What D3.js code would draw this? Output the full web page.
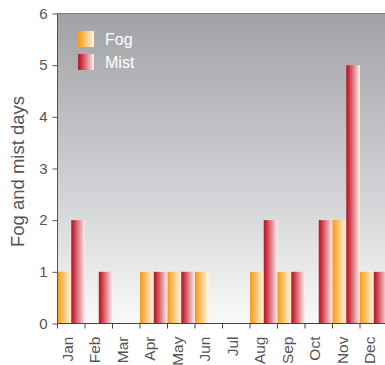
<!DOCTYPE html>
<html>
<head>
<meta charset="utf-8">
<script src="https://cdn.jsdelivr.net/npm/d3@7/dist/d3.min.js"></script>
<style>
  html, body { margin: 0; padding: 0; background: #fff; }
  svg { display: block; font-family: "Liberation Sans", Arial, sans-serif; }
</style>
</head>
<body>
<div id="chart"></div>
<script>
// Monthly fog and mist day counts
const months = ["Jan","Feb","Mar","Apr","May","Jun","Jul","Aug","Sep","Oct","Nov","Dec"];
const fogDays  = [1, 0, 0, 1, 1, 1, 0, 1, 1, 0, 2, 1];
const mistDays = [2, 1, 0, 1, 1, 0, 0, 2, 1, 2, 5, 1];
const seriesNames = ["Fog", "Mist"];
const yTicks = [0, 1, 2, 3, 4, 5, 6];

const W = 385, H = 365;
const m = { left: 57.5, top: 13.5, bottom: 323.5, right: 387.5 };

const svg = d3.select("#chart").append("svg")
  .attr("width", W).attr("height", H);

const defs = svg.append("defs");

// plot background: grey at the top fading to near white
const bg = defs.append("linearGradient").attr("id", "bgGrad")
  .attr("x1", 0).attr("y1", 0).attr("x2", 0).attr("y2", 1);
bg.append("stop").attr("offset", "0%").attr("stop-color", "#a1a2a6");
bg.append("stop").attr("offset", "55%").attr("stop-color", "#cfd0d3");
bg.append("stop").attr("offset", "100%").attr("stop-color", "#f9f9f9");

// horizontal bar gradients
const fogGrad = defs.append("linearGradient").attr("id", "fogGrad")
  .attr("x1", 0).attr("y1", 0).attr("x2", 1).attr("y2", 0);
fogGrad.append("stop").attr("offset", "0%").attr("stop-color", "#f7991a");
fogGrad.append("stop").attr("offset", "20%").attr("stop-color", "#f9ac3c");
fogGrad.append("stop").attr("offset", "100%").attr("stop-color", "#fff6e6");

const mistGrad = defs.append("linearGradient").attr("id", "mistGrad")
  .attr("x1", 0).attr("y1", 0).attr("x2", 1).attr("y2", 0);
mistGrad.append("stop").attr("offset", "0%").attr("stop-color", "#b01a2b");
mistGrad.append("stop").attr("offset", "15%").attr("stop-color", "#c72634");
mistGrad.append("stop").attr("offset", "100%").attr("stop-color", "#fbf0ef");

const fills = { Fog: "url(#fogGrad)", Mist: "url(#mistGrad)" };

const x = d3.scaleBand().domain(months).range([m.left, m.right]).padding(0);
const xSub = d3.scaleBand().domain(seriesNames).range([0, x.bandwidth()]).padding(0);
const y = d3.scaleLinear().domain([0, 6]).range([m.bottom, m.top]);

// background
svg.append("rect")
  .attr("x", m.left).attr("y", m.top)
  .attr("width", m.right - m.left).attr("height", m.bottom - m.top)
  .attr("fill", "url(#bgGrad)");

// top border line
svg.append("line")
  .attr("x1", m.left).attr("x2", W)
  .attr("y1", m.top).attr("y2", m.top)
  .attr("stroke", "#7d7e82").attr("stroke-width", 1.2);

// bars
const rows = months.map((mo, i) => ({ month: mo, Fog: fogDays[i], Mist: mistDays[i] }));
const groups = svg.append("g").selectAll("g").data(rows).join("g")
  .attr("transform", d => `translate(${x(d.month)},0)`);
groups.selectAll("rect")
  .data(d => seriesNames.map(k => ({ key: k, value: d[k] })).filter(e => e.value > 0))
  .join("rect")
  .attr("x", d => xSub(d.key))
  .attr("width", xSub.bandwidth())
  .attr("y", d => y(d.value))
  .attr("height", d => y(0) - y(d.value))
  .attr("fill", d => fills[d.key]);

// y axis
const yAxis = svg.append("g")
  .attr("transform", `translate(${m.left},0)`)
  .call(d3.axisLeft(y).tickValues(yTicks).tickFormat(d3.format("d")).tickSize(5).tickPadding(5));
yAxis.select(".domain").attr("stroke", "#555").attr("d", `M0,${m.top}V${m.bottom}`);
yAxis.selectAll(".tick line").attr("stroke", "#555");
yAxis.selectAll(".tick text")
  .attr("fill", "#555").style("font-size", "15px");

// x axis: ticks at band boundaries
const xAxisG = svg.append("g").attr("transform", `translate(0,${m.bottom})`);
xAxisG.append("line")
  .attr("x1", m.left).attr("x2", W).attr("y1", 0).attr("y2", 0)
  .attr("stroke", "#444");
xAxisG.selectAll(".bt").data(months).join("line")
  .attr("class", "bt")
  .attr("x1", d => x(d)).attr("x2", d => x(d))
  .attr("y1", 0).attr("y2", 5)
  .attr("stroke", "#444");
xAxisG.selectAll(".xl").data(months).join("text")
  .attr("class", "xl")
  .attr("transform", d => `translate(${x(d) + x.bandwidth() / 2 + 1.5},${13}) rotate(-90)`)
  .attr("text-anchor", "end")
  .attr("fill", "#555")
  .style("font-size", "15.5px")
  .text(d => d);

// y axis title
svg.append("text")
  .attr("transform", `translate(24,${171.5}) rotate(-90)`)
  .attr("text-anchor", "middle")
  .attr("fill", "#555")
  .style("font-size", "18.5px")
  .text("Fog and mist days");

// legend
const legend = svg.append("g").attr("transform", "translate(78,31)");
seriesNames.forEach((name, i) => {
  const g = legend.append("g").attr("transform", `translate(0,${i * 23})`);
  g.append("rect").attr("width", 16).attr("height", 16).attr("fill", fills[name]);
  g.append("text").attr("x", 27).attr("y", 14)
    .attr("fill", "#fff").style("font-size", "16px").text(name);
});
</script>
</body>
</html>
